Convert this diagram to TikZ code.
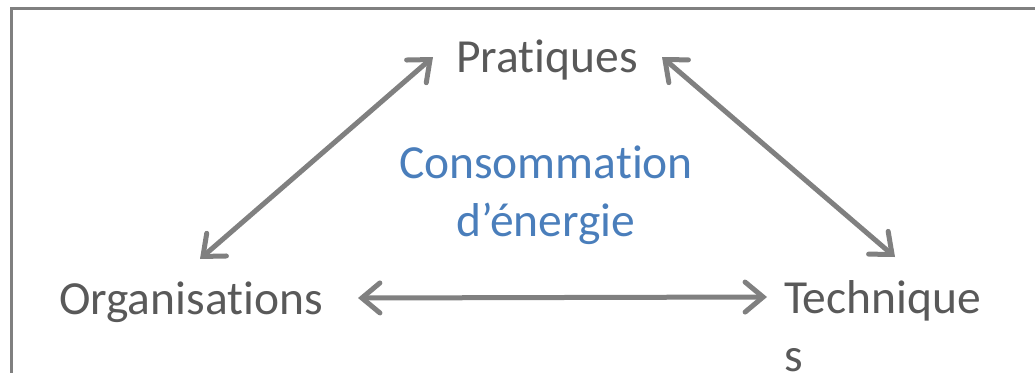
\documentclass[tikz,border=0pt]{standalone}
\usepackage{fontspec}
\setmainfont{Carlito}[Ligatures={NoCommon}]
\usetikzlibrary{arrows.meta,calc}
\definecolor{txtgray}{HTML}{595959}
\definecolor{lngray}{HTML}{808080}
\definecolor{txtblue}{HTML}{4A7EBB}
\tikzset{
  lbl/.style={inner sep=0pt, outer sep=0pt, text=txtgray, font=\fontsize{47.5}{58}\selectfont},
  ctr/.style={inner sep=0pt, outer sep=0pt, text=txtblue, align=center, font=\fontsize{47.5}{58}\selectfont},
  arr/.style={draw=lngray, line width=5pt, {Straight Barb[length=18pt,width=30pt,line cap=round]}-{Straight Barb[length=18pt,width=30pt,line cap=round]}},
  frame/.style={draw=lngray, line width=3pt}
}
\begin{document}
\begin{tikzpicture}[x=1pt,y=-1pt]
\useasboundingbox (0,0) rectangle (1035,372);
\draw[frame] (11,380) -- (11,8) -- (1040,8);
\node[lbl, anchor=base] (prat) at (547,72) {Pratiques};
\node[lbl, anchor=base west] (org) at (59,314) {Organisations};
\node[lbl, anchor=base west, align=left] (tech) at (784,371) {Technique\\s};
\node[ctr, anchor=base] (conso) at (546,236) {Consommation\\d’énergie};
\draw[arr] ($(org.base west)+(141,-55)$) -- ($(prat.base)+(-114,-15)$);
\draw[arr] ($(prat.base)+(115,-15)$) -- ($(tech.base west)+(111,-114)$);
\draw[arr] ($(org.base west)+(299,-16)$) -- ($(tech.base west)+(-17,-74)$);
\end{tikzpicture}
\end{document}
